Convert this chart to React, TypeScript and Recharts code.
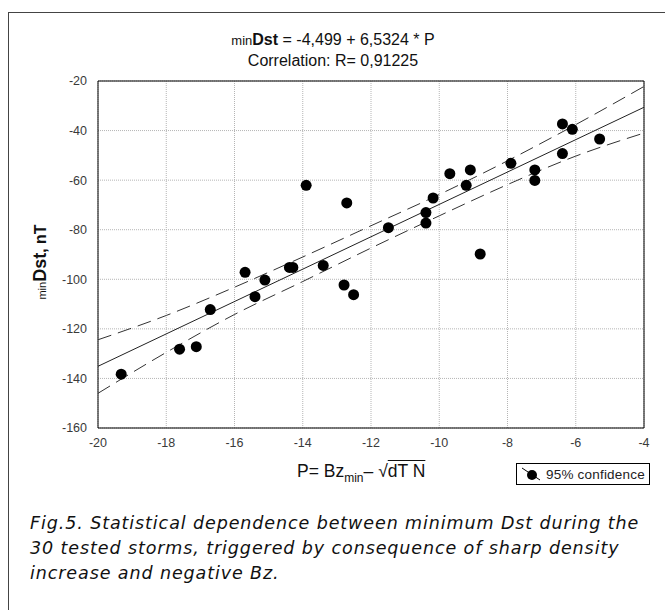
import React from 'react';
import {
  ComposedChart,
  Scatter,
  Line,
  XAxis,
  YAxis,
  CartesianGrid,
  ReferenceArea,
} from 'recharts';

// storms: P parameter vs minimum Dst
const pVals = [
  -19.32, -17.61, -17.12, -16.71, -15.69, -15.4, -15.11, -14.39, -14.29, -13.9,
  -13.4, -12.71, -12.79, -12.51, -11.49, -10.39, -10.39, -10.18, -9.69, -9.09,
  -9.21, -8.8, -7.9, -7.2, -7.2, -6.39, -6.1, -6.39, -5.3,
];
const dstVals = [
  -138.3, -128.2, -127.2, -112.2, -97.2, -107.0, -100.3, -95.2, -95.2, -62.1,
  -94.4, -69.2, -102.3, -106.2, -79.2, -73.1, -77.3, -67.2, -57.4, -55.9,
  -62.1, -89.8, -53.2, -55.9, -60.1, -37.3, -39.5, -49.3, -43.4,
];

// regression line ends, minDst = -4,499 + 6,5324 * P
const fitX = [-20, -4];
const fitY = [-135.1, -30.6];

// 95% confidence band
const bandX = [-20, -18, -16, -14, -12, -10, -8, -6, -4];
const bandUpper = [-124.4, -114.6, -103.2, -91.0, -78.4, -65.8, -52.2, -37.6, -22.2];
const bandLower = [-146.0, -129.5, -114.2, -100.9, -87.4, -74.4, -61.8, -50.3, -41.0];

const xTicks = [-20, -18, -16, -14, -12, -10, -8, -6, -4];
const yTicks = [-160, -140, -120, -100, -80, -60, -40, -20];

const points = pVals.map((x, i) => ({ x, y: dstVals[i] }));
const fit = fitX.map((x, i) => ({ x, y: fitY[i] }));
const upper = bandX.map((x, i) => ({ x, y: bandUpper[i] }));
const lower = bandX.map((x, i) => ({ x, y: bandLower[i] }));

const sans = '"Liberation Sans", Arial, sans-serif';
const tickStyle = { fontSize: 12.5, fill: '#3a3a3a', fontFamily: sans };

const Dot = (props: any) => <circle cx={props.cx} cy={props.cy} r={5.5} fill="#000" />;

export default function App() {
  return (
    <div style={{ position: 'relative', width: 665, height: 610, background: '#fff', fontFamily: sans }}>
      <style>{'body{margin:0;overflow:hidden}'}</style>
      {/* outer figure frame */}
      <div
        style={{
          position: 'absolute',
          left: 8,
          top: 12,
          width: 700,
          height: 700,
          border: '1px solid #444',
        }}
      />

      <div style={{ position: 'absolute', left: 0, top: 0 }}>
        <ComposedChart width={665} height={610} margin={{ top: 81, right: 21, bottom: 152, left: 38 }}>
          <CartesianGrid stroke="#b5b5b5" strokeDasharray="1 1" />
          <XAxis
            dataKey="x"
            type="number"
            domain={[-20, -4]}
            ticks={xTicks}
            height={30}
            axisLine={false}
            tickLine={false}
            tick={tickStyle}
            tickMargin={4}
          />
          <YAxis
            dataKey="y"
            type="number"
            domain={[-160, -20]}
            ticks={yTicks}
            width={60}
            axisLine={false}
            tickLine={false}
            tick={tickStyle}
            tickMargin={5}
          />
          <ReferenceArea x1={-20} x2={-4} y1={-160} y2={-20} fill="none" stroke="#000" strokeWidth={1} />
          <Line data={upper} dataKey="y" type="monotone" stroke="#333" strokeWidth={1} strokeDasharray="14 7" dot={false} isAnimationActive={false} />
          <Line data={lower} dataKey="y" type="monotone" stroke="#333" strokeWidth={1} strokeDasharray="14 7" dot={false} isAnimationActive={false} />
          <Line data={fit} dataKey="y" type="linear" stroke="#222" strokeWidth={1} dot={false} isAnimationActive={false} />
          <Scatter data={points} dataKey="y" shape={<Dot />} isAnimationActive={false} />
        </ComposedChart>
      </div>

      {/* title */}
      <div style={{ position: 'absolute', left: 8, width: 650, top: 30, textAlign: 'center', fontSize: 16, color: '#111', lineHeight: '20px' }}>
        <div>
          <span style={{ fontSize: 13 }}>min</span>
          <span style={{ fontWeight: 'bold' }}>Dst</span> = -4,499 + 6,5324 * P
        </div>
        <div>Correlation: R= 0,91225</div>
      </div>

      {/* y label */}
      <div
        style={{
          position: 'absolute',
          left: 40,
          top: 262,
          transform: 'translate(-50%, -50%) rotate(-90deg)',
          whiteSpace: 'nowrap',
          fontSize: 16,
          fontWeight: 'bold',
          color: '#111',
        }}
      >
        <span style={{ fontSize: 11, fontWeight: 'normal' }}>min</span>
        <span style={{ fontSize: 18 }}>Dst</span>, nT
      </div>

      {/* x label */}
      <div style={{ position: 'absolute', left: 297, top: 461, fontSize: 17.5, color: '#111', whiteSpace: 'nowrap' }}>
        P= Bz<sub style={{ fontSize: 12 }}>min</sub>– √<span style={{ textDecoration: 'overline' }}>dT N</span>
      </div>

      {/* legend */}
      <div
        style={{
          position: 'absolute',
          left: 516,
          top: 463,
          width: 132,
          height: 20,
          border: '1px solid #000',
          fontSize: 13.5,
          letterSpacing: 0.2,
          color: '#222',
          display: 'flex',
          alignItems: 'center',
        }}
      >
        <svg width={29} height={20}>
          <line x1={5} y1={4} x2={23} y2={16} stroke="#000" strokeWidth={1} />
          <circle cx={15} cy={11} r={5} fill="#000" />
        </svg>
        <span>95% confidence</span>
      </div>

      {/* caption */}
      <div
        style={{
          position: 'absolute',
          left: 30,
          top: 511,
          fontFamily: '"DejaVu Sans", Verdana, sans-serif',
          fontStyle: 'italic',
          fontSize: 17.5,
          letterSpacing: 0.9,
          lineHeight: '25px',
          color: '#111',
          whiteSpace: 'nowrap',
        }}
      >
        <div>Fig.5. Statistical dependence between minimum Dst during the</div>
        <div>30 tested storms, triggered by consequence of sharp density</div>
        <div>increase and negative Bz.</div>
      </div>
    </div>
  );
}
